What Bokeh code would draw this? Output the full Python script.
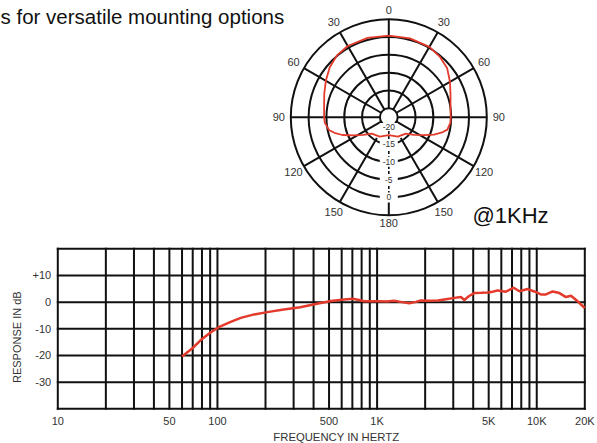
import numpy as np
from bokeh.plotting import figure
from bokeh.layouts import column
from bokeh.models import Range1d
from bokeh.core.properties import value
from bokeh.embed import file_html
from bokeh.resources import INLINE

# ---------------- data ----------------
title_text = "s for versatile mounting options"
note_text = "@1KHz"

# polar pattern (degrees clockwise from front, response in dB)
polar_angle = [0, 15, 30, 40, 50, 60, 70, 80, 90, 95, 102, 106, 111, 117, 125, 134, 155, 180,
               205, 226, 235, 243, 249, 254, 258, 265, 270, 280, 290, 300, 310, 320, 330, 345]
polar_db = [0.42, 0.42, 0.28, -0.28, -1.12, -2.67, -4.07, -4.91, -5.14, -5.14, -5.7, -6.96,
            -8.9, -11.4, -13.9, -15.85, -16.5, -17.48,
            -16.5, -15.85, -13.81, -11.23, -8.56, -6.59, -5.33, -4.49, -4.35, -4.07, -3.23,
            -2.1, -0.84, 0.14, 0.56, 0.56]

ring_db = [-20, -15, -10, -5, 0, 5]
ring_labels = ["-20", "-15", "-10", "-5", "0"]
spoke_angle = [0, 30, 60, 90, 120, 150, 180, 210, 240, 270, 300, 330]
spoke_labels = ["0", "30", "60", "90", "120", "150", "180", "150", "120", "90", "60", "30"]

# frequency response
freq_hz = [60, 70, 78, 90, 102, 120, 140, 170, 205, 260, 330, 420, 514, 600, 703, 770, 832,
           1000, 1150, 1280, 1430, 1590, 1750, 1880, 2100, 2400, 2700, 3050, 3350, 3520, 3750,
           4060, 4500, 4920, 5300, 5680, 6000, 6400, 7165, 7780, 8770, 9660, 10620, 11420,
           12590, 13870, 15240, 16380, 18040, 20000]
response_db = [-20.4, -17.2, -14.4, -11.5, -9.4, -7.5, -5.9, -4.6, -3.75, -2.8, -1.9, -0.6, 0.4,
               0.9, 1.3, 0.8, 0.3, 0.3, 0.2, 0.5, 0.0, -0.4, 0.1, 0.6, 0.5, 0.6, 1.1, 1.6, 1.9,
               0.8, 2.2, 3.4, 3.5, 3.6, 3.9, 4.4, 4.2, 3.9, 5.4, 4.1, 4.9, 4.0, 2.9, 2.9, 4.0,
               3.4, 1.9, 2.4, 0.3, -2.2]

x_tick_values = [10, 50, 100, 500, 1000, 5000, 10000, 20000]
x_tick_labels = ["10", "50", "100", "500", "1K", "5K", "10K", "20K"]
x_grid_values = [10, 20, 30, 40, 50, 60, 70, 80, 90, 100, 200, 300, 400, 500, 600, 700, 800,
                 900, 1000, 2000, 3000, 4000, 5000, 6000, 7000, 8000, 9000, 10000, 20000]
y_grid_values = [-40, -30, -20, -10, 0, 10, 20]
y_tick_values = [-30, -20, -10, 0, 10]
y_tick_labels = ["-30", "-20", "-10", "0", "+10"]

x_axis_title = "FREQUENCY IN HERTZ"
y_axis_title = "RESPONSE IN dB"

# ---------------- styles ----------------
FONT = value("Liberation Sans")
INK = "#111111"
TXT = "#333333"
RED = "#e33a2c"

W = 597
H1 = 236
H2 = 443 - H1

# ---------------- polar figure ----------------
OFF = 22.5                        # radius = dB + OFF
S = 98 / (ring_db[-1] + OFF)      # px per unit
CX, CY = 388.3, 116.7             # px of pole centre

top = figure(width=W, height=H1, toolbar_location=None, output_backend="svg",
             x_range=Range1d(-CX / S, (W - CX) / S), y_range=Range1d(-(H1 - CY) / S, CY / S),
             x_axis_location=None, y_axis_location=None, min_border=0,
             outline_line_color=None, background_fill_color="white", border_fill_color="white")
top.grid.grid_line_color = None


def cx(px):
    return (px - CX) / S


def cy(py):
    return (CY - py) / S


ring_r = [d + OFF for d in ring_db]
top.circle(x=[0] * len(ring_r), y=[0] * len(ring_r), radius=ring_r,
           fill_color=None, line_color=INK, line_width=2)

r_in = ring_r[0]
r_out = ring_r[-1]
sp = [a for a in spoke_angle if a != 180]
r0 = [6.7 if a in (150, 210) else r_in for a in sp]
th = np.radians(sp)
top.segment(x0=np.array(r0) * np.sin(th), y0=np.array(r0) * np.cos(th),
            x1=r_out * np.sin(th), y1=r_out * np.cos(th), line_color=INK, line_width=2)
# rear axis: dashed inside, solid outer part
top.segment(x0=[0], y0=[-r_in], x1=[0], y1=[-ring_r[-2]], line_color=INK, line_width=1.6,
            line_dash="3 2")
top.segment(x0=[0], y0=[-ring_r[-2]], x1=[0], y1=[-r_out], line_color=INK, line_width=2)

# polar response curve
pa = np.radians(polar_angle + [polar_angle[0]])
pr = np.array(polar_db + [polar_db[0]]) + OFF
top.line(pr * np.sin(pa), pr * np.cos(pa), line_color=RED, line_width=1.8)

# dB labels on rear axis with white boxes
lab_y = [-(d + OFF) for d in ring_db[:-1]]
lab_y[0] = -(ring_r[0] + 0.25)
top.rect(x=[0] * len(lab_y), y=lab_y, width=18, height=[8] + [10] * (len(lab_y) - 1),
         width_units="screen", height_units="screen", fill_color="white", line_color=None)
top.text(x=[0] * len(lab_y), y=lab_y, text=ring_labels, text_align="center",
         text_baseline="middle", text_font=FONT, text_font_size="8.5px", text_color=TXT)

# angle labels
lr = []
for a in spoke_angle:
    if a == 0:
        lr.append(107 / S)
    elif a == 180:
        lr.append(106 / S)
    else:
        lr.append(110 / S)
ta = np.radians(spoke_angle)
top.text(x=np.array(lr) * np.sin(ta), y=np.array(lr) * np.cos(ta), text=spoke_labels,
         text_align="center", text_baseline="middle", text_font=FONT, text_font_size="11px",
         text_color=TXT)

# heading fragment and note
top.text(x=[cx(0)], y=[cy(15.7)], text=[title_text], text_align="left",
         text_baseline="alphabetic", text_font=FONT, text_font_size="20.5px", text_color="#111111")
top.text(x=[cx(510)], y=[cy(214.5)], text=[note_text], text_align="center",
         text_baseline="middle", text_font=FONT, text_font_size="22px", text_color="#111111")

# ---------------- frequency response figure ----------------
FL, FRx = 57.3, 584.3          # px of 10 Hz and 20 kHz
FT, FB = 248.3 - H1, 408.3 - H1  # px of +20 dB and -40 dB inside this figure
dec = np.log10(20000 / 10)
K = (FRx - FL) / dec            # px per decade
PPD = (FB - FT) / 60.0          # px per dB

bot = figure(width=W, height=H2, x_axis_type="log", toolbar_location=None, output_backend="svg",
             x_range=Range1d(10 ** (1 - FL / K), 10 ** (np.log10(20000) + (W - FRx) / K)),
             y_range=Range1d(-40 - (H2 - FB) / PPD, 20 + FT / PPD),
             x_axis_location=None, y_axis_location=None, min_border=0,
             outline_line_color=None, background_fill_color="white", border_fill_color="white")
bot.grid.grid_line_color = None


def bx(px):
    return 10 ** (1 + (px - FL) / K)


def by(py):
    return 20 - (py - FT) / PPD


xmin, xmax = x_grid_values[0], x_grid_values[-1]
ymin, ymax = y_grid_values[0], y_grid_values[-1]
bot.segment(x0=x_grid_values, y0=[ymin] * len(x_grid_values), x1=x_grid_values,
            y1=[ymax] * len(x_grid_values), line_color=INK, line_width=2, line_cap="square")
bot.segment(x0=[xmin] * len(y_grid_values), y0=y_grid_values, x1=[xmax] * len(y_grid_values),
            y1=y_grid_values, line_color=INK, line_width=2, line_cap="square")

bot.line(freq_hz, response_db, line_color=RED, line_width=2.5)

bot.text(x=x_tick_values, y=[by(420.7 - H1)] * len(x_tick_values), text=x_tick_labels,
         text_align="center", text_baseline="middle", text_font=FONT, text_font_size="11px",
         text_color=TXT)
bot.text(x=[bx(50.7)] * len(y_tick_values), y=y_tick_values, text=y_tick_labels,
         text_align="right", text_baseline="middle", text_font=FONT, text_font_size="11px",
         text_color=TXT)
bot.text(x=[bx(16)], y=[by(336.7 - H1)], text=[y_axis_title], angle=np.pi / 2,
         text_align="center", text_baseline="middle", text_font=FONT, text_font_size="11px",
         text_color=TXT)
bot.text(x=[bx(335.8)], y=[by(436.7 - H1)], text=[x_axis_title], text_align="center",
         text_baseline="middle", text_font=FONT, text_font_size="11.3px", text_color=TXT)

page = column(top, bot, spacing=0)
open("out.html", "w").write(file_html(page, INLINE))
